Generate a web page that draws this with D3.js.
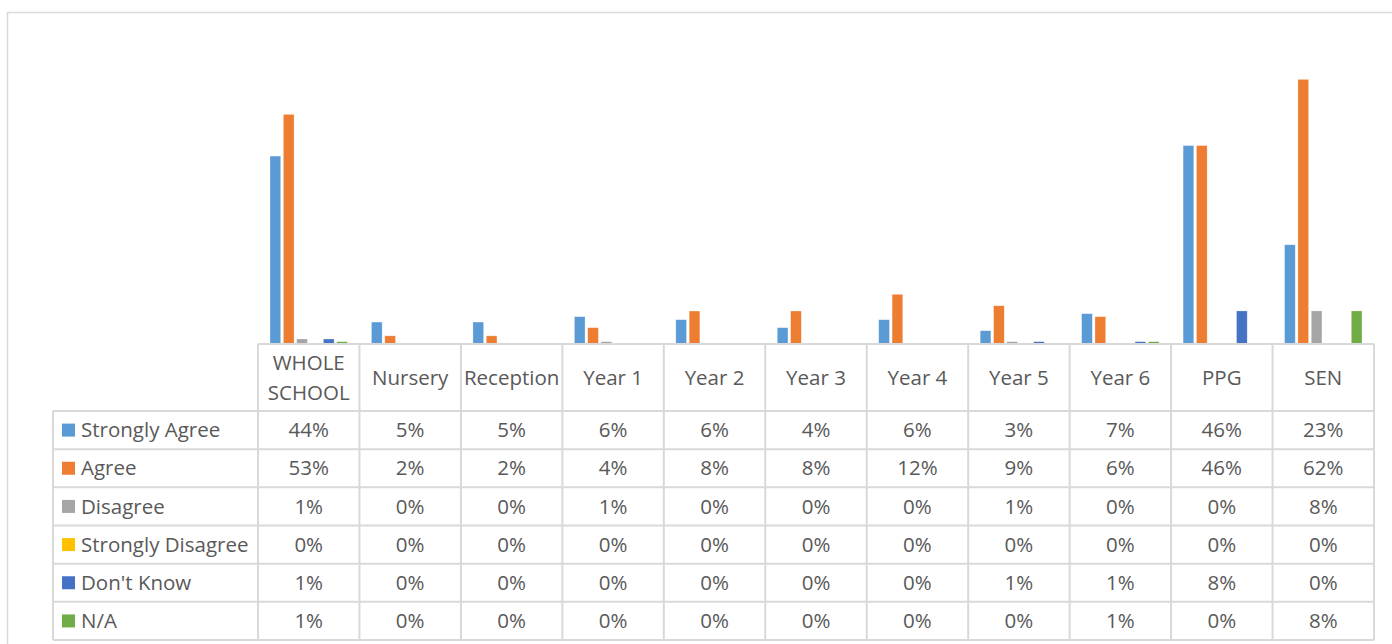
<!DOCTYPE html>
<html>
<head>
<meta charset="utf-8">
<script src="https://cdn.jsdelivr.net/npm/d3@7"></script>
<style>
  body { margin: 0; background: #fff; }
  text { font-family: "Open Sans", Lato, sans-serif; fill: #595959; }
</style>
</head>
<body>
<script>
// data (bar heights give the unrounded values, the table shows them rounded)
const categories = ["WHOLE SCHOOL", "Nursery", "Reception", "Year 1", "Year 2", "Year 3", "Year 4", "Year 5", "Year 6", "PPG", "SEN"];
const seriesNames = ["Strongly Agree", "Agree", "Disagree", "Strongly Disagree", "Don't Know", "N/A"];
const seriesColors = ["#5B9BD5", "#ED7D31", "#A5A5A5", "#FFC000", "#4472C4", "#70AD47"];

const stronglyAgree    = [0.437, 0.051, 0.051, 0.0635, 0.0565, 0.038, 0.0565, 0.031, 0.0705, 0.4615, 0.2308];
const agree            = [0.534, 0.019, 0.019, 0.038, 0.0767, 0.0767, 0.1156, 0.089, 0.0635, 0.4615, 0.6154];
const disagree         = [0.0116, 0, 0, 0.0054, 0, 0, 0, 0.0054, 0, 0, 0.0769];
const stronglyDisagree = [0, 0, 0, 0, 0, 0, 0, 0, 0, 0, 0];
const dontKnow         = [0.0116, 0, 0, 0, 0, 0, 0, 0.0054, 0.0054, 0.0769, 0];
const notApplicable    = [0.0054, 0, 0, 0, 0, 0, 0, 0, 0.0054, 0, 0.0769];

const seriesValues = [stronglyAgree, agree, disagree, stronglyDisagree, dontKnow, notApplicable];

const W = 1392, H = 644;
const plotLeft = 258, plotRight = 1374, baseY = 344, plotTop = 43;
const tableLeft = 53, headerBottom = 411, tableBottom = 640;
const gridColor = "#d9d9d9";
const fontSize = "20.5px";
const pct = d3.format(".0%");

const svg = d3.select("body").append("svg")
    .attr("width", W)
    .attr("height", H);

// outer chart frame
svg.append("rect")
    .attr("x", 7.5).attr("y", 12.5)
    .attr("width", 1420).attr("height", 700)
    .attr("fill", "none")
    .attr("stroke", gridColor)
    .attr("stroke-width", 1.5);

const x = d3.scaleBand()
    .domain(categories)
    .range([plotLeft, plotRight]);

const xs = d3.scaleBand()
    .domain(seriesNames)
    .range([0, x.bandwidth()])
    .paddingInner(0.2)
    .paddingOuter(0.9);

const y = d3.scaleLinear()
    .domain([0, 0.7])
    .range([baseY, plotTop]);

const rows = d3.scaleBand()
    .domain(seriesNames)
    .range([headerBottom, tableBottom]);

// bars
seriesNames.forEach((name, si) => {
    svg.append("g")
        .selectAll("rect")
        .data(categories.map((c, ci) => ({ c: c, v: seriesValues[si][ci] })).filter(d => d.v > 0))
        .join("rect")
        .attr("x", d => x(d.c) + xs(name))
        .attr("y", d => y(d.v))
        .attr("width", xs.bandwidth())
        .attr("height", d => baseY - y(d.v))
        .attr("fill", seriesColors[si])
        .attr("stroke", "rgba(255,255,255,0.45)")
        .attr("stroke-width", 0.6);
});

// data table grid
const grid = svg.append("g")
    .attr("stroke", gridColor)
    .attr("stroke-width", 2)
    .attr("fill", "none");

grid.append("line")
    .attr("x1", plotLeft).attr("x2", plotRight)
    .attr("y1", baseY).attr("y2", baseY);

seriesNames.forEach(s => {
    grid.append("line")
        .attr("x1", tableLeft).attr("x2", plotRight)
        .attr("y1", rows(s)).attr("y2", rows(s));
});
grid.append("line")
    .attr("x1", tableLeft).attr("x2", plotRight)
    .attr("y1", tableBottom).attr("y2", tableBottom);

grid.append("line")
    .attr("x1", tableLeft).attr("x2", tableLeft)
    .attr("y1", headerBottom).attr("y2", tableBottom);

categories.forEach(c => {
    grid.append("line")
        .attr("x1", x(c)).attr("x2", x(c))
        .attr("y1", baseY).attr("y2", tableBottom);
});
grid.append("line")
    .attr("x1", plotRight).attr("x2", plotRight)
    .attr("y1", baseY).attr("y2", tableBottom);

// category header labels
const header = svg.append("g")
    .attr("font-size", fontSize)
    .attr("text-anchor", "middle");

categories.forEach(c => {
    const cx = x(c) + x.bandwidth() / 2;
    const t = header.append("text")
        .attr("x", cx)
        .attr("y", (baseY + headerBottom) / 2)
        .attr("dy", "0.35em")
        .text(c);
    if (t.node().getComputedTextLength() > x.bandwidth() - 4 && c.includes(" ")) {
        const words = c.split(" ");
        t.text(null);
        words.forEach((w, i) => {
            t.append("tspan")
                .attr("x", cx)
                .attr("y", (baseY + headerBottom) / 2 + (i - (words.length - 1) / 2) * 30)
                .attr("dy", "0.35em")
                .text(w);
        });
    }
});

// row labels with legend keys
const rowLabels = svg.append("g").attr("font-size", fontSize);
seriesNames.forEach((s, si) => {
    const cy = rows(s) + rows.bandwidth() / 2;
    rowLabels.append("rect")
        .attr("x", 62).attr("y", cy - 6.5)
        .attr("width", 13).attr("height", 13)
        .attr("fill", seriesColors[si]);
    rowLabels.append("text")
        .attr("x", 81)
        .attr("y", cy)
        .attr("dy", "0.35em")
        .text(s);
});

// table values
const cells = svg.append("g")
    .attr("font-size", fontSize)
    .attr("text-anchor", "middle");
seriesNames.forEach((s, si) => {
    categories.forEach((c, ci) => {
        cells.append("text")
            .attr("x", x(c) + x.bandwidth() / 2)
            .attr("y", rows(s) + rows.bandwidth() / 2)
            .attr("dy", "0.35em")
            .text(pct(seriesValues[si][ci]));
    });
});
</script>
</body>
</html>
